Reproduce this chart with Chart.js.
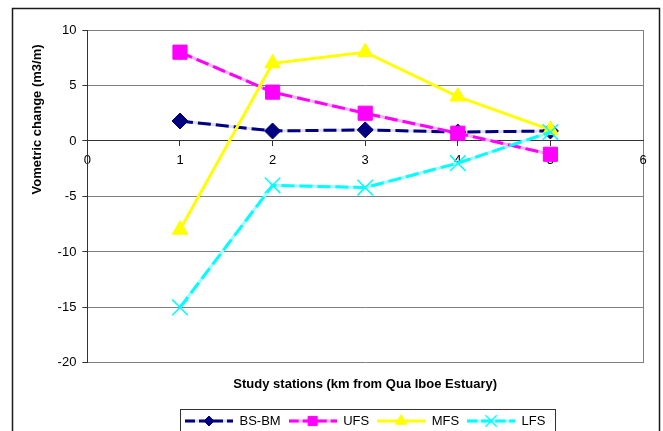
<!DOCTYPE html>
<html>
<head>
<meta charset="utf-8">
<script src="https://cdn.jsdelivr.net/npm/chart.js@4/dist/chart.umd.min.js"></script>
<style>
  html, body { margin: 0; padding: 0; overflow: hidden; background: #fff; }
  #wrap { width: 663px; height: 445px; position: relative; }
</style>
</head>
<body>
<div id="wrap"><canvas id="chart"></canvas></div>
<script>
// Study stations (km from the estuary) and volumetric change per profile
const stations = [1, 2, 3, 4, 5];
const bsbm = [1.8, 0.9, 1.0, 0.8, 0.9];
const ufs  = [8.0, 4.4, 2.5, 0.7, -1.2];
const mfs  = [-8.0, 7.0, 8.0, 4.0, 1.0];
const lfs  = [-15.0, -4.0, -4.2, -2.0, 0.8];
const seriesNames = ['BS-BM', 'UFS', 'MFS', 'LFS'];

const FONT = "'Liberation Sans', Arial, sans-serif";
Chart.defaults.font.family = FONT;
Chart.defaults.color = '#000';

const toPoints = (vals) => stations.map((s, i) => ({ x: s, y: vals[i] }));

// series look: colour, pale tint shown between dashes, dash, marker
const looks = [
  { color: '#000080', tint: '#dcdcf4', dash: [13, 5], style: 'rectRot', r: 8,  lr: 5 },
  { color: '#ff00ff', tint: '#ffaaff', dash: [13, 5], style: 'rect',    r: 10, lr: 6.5 },
  { color: '#ffff00', tint: null,      dash: [],      style: 'triangle', r: 9, lr: 6.5 },
  { color: '#00ffff', tint: '#9cffff', dash: [13, 5], style: 'crossRot', r: 11, lr: 8 }
];
const seriesValues = [bsbm, ufs, mfs, lfs];

// small line+marker swatch for the legend
function legendIcon(look) {
  const c = document.createElement('canvas');
  c.width = 48; c.height = 18;
  const g = c.getContext('2d');
  g.lineWidth = 3;
  if (look.tint) {
    g.strokeStyle = look.tint;
    g.beginPath(); g.moveTo(0, 9); g.lineTo(48, 9); g.stroke();
  }
  g.strokeStyle = look.color;
  g.setLineDash(look.dash.length ? [10, 4] : []);
  g.beginPath(); g.moveTo(0, 9); g.lineTo(48, 9); g.stroke();
  g.setLineDash([]);
  g.fillStyle = look.color;
  g.strokeStyle = look.color;
  g.lineWidth = look.style === 'crossRot' ? 1.5 : 1;
  Chart.helpers.drawPoint(g, { pointStyle: look.style, radius: look.lr, rotation: 0, borderWidth: g.lineWidth }, 24, 9);
  return c;
}
const icons = looks.map(legendIcon);

const datasets = [];
seriesNames.forEach((name, i) => {
  const lk = looks[i];
  datasets.push({
    label: name,
    data: toPoints(seriesValues[i]),
    borderColor: lk.color,
    backgroundColor: lk.color,
    borderWidth: 3,
    borderDash: lk.dash,
    pointStyle: lk.style,
    pointRadius: lk.r,
    pointHoverRadius: lk.r,
    pointBorderWidth: lk.style === 'crossRot' ? 1.5 : 1,
    pointBackgroundColor: lk.color,
    pointBorderColor: lk.color,
    tension: 0,
    order: 4 - i
  });
});
// pale under-strokes that show through the dash gaps
seriesNames.forEach((name, i) => {
  const lk = looks[i];
  if (!lk.tint) return;
  datasets.push({
    label: name + ' tint',
    data: toPoints(seriesValues[i]),
    borderColor: lk.tint,
    borderWidth: 3,
    pointRadius: 0,
    tension: 0,
    order: 10
  });
});

// frame round the whole chart and the box round the legend
const framePlugin = {
  id: 'frames',
  afterDraw(chart) {
    const ctx = chart.ctx;
    ctx.save();
    ctx.strokeStyle = '#1a1a1a';
    ctx.lineWidth = 1.5;
    ctx.strokeRect(12.5, 8.5, 647, 450);
    const hb = chart.legend.legendHitBoxes;
    if (hb && hb.length) {
      const left = Math.min(...hb.map(h => h.left)) - 4.5;
      const right = Math.max(...hb.map(h => h.left + h.width)) + 10;
      const mid = hb[0].top + hb[0].height / 2;
      ctx.lineWidth = 1;
      ctx.strokeStyle = '#333';
      ctx.strokeRect(Math.round(left) + 0.5, Math.round(mid - 12) + 0.5, Math.round(right - left), 40);
    }
    ctx.restore();
  }
};

new Chart(document.getElementById('chart'), {
  type: 'line',
  data: { datasets },
  options: {
    responsive: true,
    maintainAspectRatio: false,
    animation: false,
    events: [],
    layout: { padding: { top: 30, left: 26, right: 20, bottom: 7.5 } },
    plugins: {
      tooltip: { enabled: false },
      legend: {
        position: 'bottom',
        fullSize: false,
        labels: {
          usePointStyle: true,
          pointStyleWidth: 48,
          padding: 8,
          font: { size: 13, family: FONT },
          color: '#000',
          generateLabels(chart) {
            return seriesNames.map((name, i) => ({
              text: name,
              pointStyle: icons[i],
              datasetIndex: i,
              hidden: false,
              lineWidth: 0,
              strokeStyle: 'rgba(0,0,0,0)',
              fillStyle: 'rgba(0,0,0,0)',
              fontColor: '#000'
            }));
          }
        }
      }
    },
    scales: {
      x: {
        type: 'linear',
        position: { y: 0 },
        min: 0, max: 6,
        ticks: { stepSize: 1, padding: 7, font: { size: 13 }, color: '#000' },
        grid: { drawOnChartArea: false, drawTicks: true, tickLength: 5, tickColor: '#333', tickWidth: 1 },
        border: { display: true, color: '#333', width: 1 }
      },
      xt: {
        type: 'linear',
        position: 'bottom',
        min: 0, max: 6,
        ticks: { display: false, stepSize: 1 },
        grid: {
          drawTicks: false,
          color: (c) => (c.tick && c.tick.value === 6 ? '#808080' : 'rgba(0,0,0,0)'),
          lineWidth: 1
        },
        border: { display: false },
        title: {
          display: true,
          text: 'Study stations (km from Qua Iboe Estuary)',
          font: { size: 13, weight: 'bold' },
          color: '#000',
          padding: { top: 14, bottom: 14 }
        }
      },
      y: {
        position: 'left',
        min: -20, max: 10,
        ticks: { stepSize: 5, padding: 6, font: { size: 13 }, color: '#000' },
        grid: { color: '#808080', lineWidth: 1, tickLength: 5, tickColor: '#333' },
        border: { display: true, color: '#333', width: 1 },
        title: {
          display: true,
          text: 'Vometric change (m3/m)    ',
          align: 'end',
          font: { size: 13, weight: 'bold' },
          color: '#000',
          padding: { top: 4, bottom: 6 }
        }
      }
    }
  },
  plugins: [framePlugin]
});
</script>
</body>
</html>
